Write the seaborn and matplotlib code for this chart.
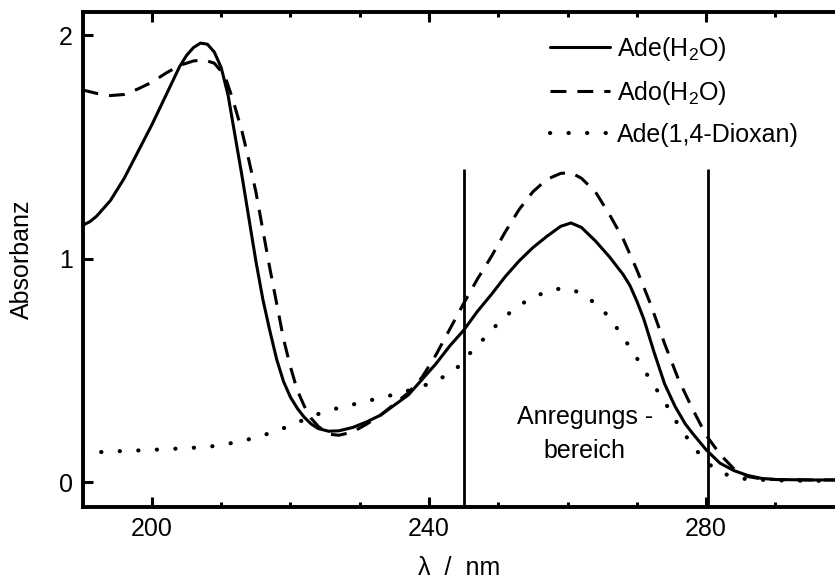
import matplotlib
matplotlib.use("Agg")
import pandas as pd
import matplotlib.pyplot as plt
import seaborn as sns
from matplotlib.ticker import MultipleLocator

sns.set_style("ticks")
plt.rcParams["font.family"] = ["Liberation Sans", "DejaVu Sans"]
plt.rcParams["mathtext.fontset"] = "custom"
plt.rcParams["mathtext.rm"] = "Liberation Sans"
plt.rcParams["mathtext.it"] = "Liberation Sans:italic"
plt.rcParams["font.size"] = 18
for key in ["text.color", "axes.labelcolor", "xtick.color", "ytick.color", "axes.edgecolor"]:
    plt.rcParams[key] = "black"

# Ade in Wasser
ade_x = [190, 191, 192, 194, 196, 198, 200, 202, 204, 205, 206, 207, 208, 209,
         210, 211, 212, 213, 214, 215, 216, 217, 218, 219, 220, 221, 222, 223,
         224, 225.5, 227, 229, 231, 233, 235, 237, 239, 241, 243, 245, 247, 249,
         251, 253, 255, 257, 259, 260.5, 262, 264, 266, 268, 269, 270, 271,
         272.5, 274, 275.5, 277, 278, 280, 282, 284, 286, 288, 290, 295, 298.6]
ade_y = [1.15, 1.165, 1.19, 1.26, 1.36, 1.48, 1.60, 1.73, 1.86, 1.91, 1.945,
         1.965, 1.96, 1.925, 1.855, 1.73, 1.55, 1.37, 1.18, 0.99, 0.82, 0.68,
         0.55, 0.45, 0.38, 0.33, 0.29, 0.26, 0.24, 0.228, 0.23, 0.245, 0.27,
         0.30, 0.345, 0.39, 0.46, 0.53, 0.61, 0.68, 0.765, 0.84, 0.92, 0.99,
         1.05, 1.10, 1.145, 1.16, 1.14, 1.08, 1.01, 0.93, 0.88, 0.81, 0.73, 0.58,
         0.44, 0.34, 0.26, 0.22, 0.145, 0.085, 0.052, 0.03, 0.017, 0.012, 0.01,
         0.01]

# Ado in Wasser
ado_x = [190, 192, 194, 196, 198, 200, 202, 204, 206, 207.5, 209, 210.5, 211.7,
         213, 214, 215, 216, 217, 218, 219, 220, 221, 222, 223, 224, 225.5, 227,
         229, 231, 233, 235, 237, 239, 241, 243, 245, 247, 249, 251, 253, 255,
         257, 259, 260.5, 262, 264, 266, 268, 270, 272, 274, 276, 278, 280, 282,
         284, 286, 288, 290, 295, 298.6]
ado_y = [1.755, 1.74, 1.73, 1.735, 1.76, 1.79, 1.83, 1.865, 1.885, 1.89, 1.875,
         1.82, 1.71, 1.57, 1.44, 1.30, 1.13, 0.96, 0.80, 0.64, 0.515, 0.41, 0.34,
         0.285, 0.25, 0.215, 0.21, 0.225, 0.26, 0.30, 0.35, 0.40, 0.47, 0.57,
         0.685, 0.80, 0.91, 1.01, 1.12, 1.22, 1.30, 1.355, 1.382, 1.385, 1.36,
         1.30, 1.20, 1.09, 0.95, 0.795, 0.62, 0.46, 0.33, 0.21, 0.125, 0.06,
         0.025, 0.015, 0.012, 0.01, 0.01]

# Ade in 1,4-Dioxan
diox_x = [190, 193, 196, 199, 202, 205, 208, 210, 212, 214, 216, 218, 220, 222,
          224, 226, 228, 230, 232, 234, 236, 238, 240, 242, 244, 246, 248, 250,
          252, 254, 256, 258, 260, 262, 264, 266, 268, 270, 272, 274, 276, 278,
          280, 282, 284, 286, 290, 295, 298.6]
diox_y = [0.134, 0.135, 0.14, 0.143, 0.148, 0.152, 0.158, 0.166, 0.178, 0.192,
          0.21, 0.228, 0.255, 0.28, 0.305, 0.325, 0.34, 0.355, 0.37, 0.385, 0.40,
          0.42, 0.44, 0.47, 0.51, 0.58, 0.645, 0.712, 0.768, 0.81, 0.84, 0.863,
          0.868, 0.845, 0.80, 0.74, 0.65, 0.555, 0.455, 0.36, 0.255, 0.165, 0.09,
          0.045, 0.022, 0.013, 0.008, 0.006, 0.006]

labels = ["Ade(H$_2$O)", "Ado(H$_2$O)", "Ade(1,4-Dioxan)"]
excitation_bounds = [245, 280.3]
excitation_top = 1.4

fig = plt.figure(figsize=(8.35, 5.83), dpi=100)
ax = fig.add_axes([0.099, 0.130, 0.901, 0.849])

lw = 2.2
sns.lineplot(x=ade_x, y=ade_y, ax=ax, color="black", lw=lw, linestyle="-")
sns.lineplot(x=ado_x, y=ado_y, ax=ax, color="black", lw=lw, linestyle=(0, (5.2, 3.6)))
sns.lineplot(x=diox_x, y=diox_y, ax=ax, color="black", lw=3.0,
             linestyle=(0, (0.05, 4.4)), dash_capstyle="round")

ax.vlines(excitation_bounds, -0.12, excitation_top, color="black", lw=2)
ax.text(262.5, 0.215, "Anregungs -\nbereich", ha="center", va="center",
        linespacing=1.55, fontsize=18)

ax.set_xlim(190, 298.6)
ax.set_ylim(-0.112, 2.103)
ax.xaxis.set_major_locator(MultipleLocator(40))
ax.xaxis.set_minor_locator(MultipleLocator(10))
ax.yaxis.set_major_locator(MultipleLocator(1))
ax.tick_params(which="both", direction="in", top=True, width=2.2, pad=7, labelsize=18)
ax.tick_params(which="major", length=7)
ax.tick_params(which="minor", length=3.5)

for side in ["left", "bottom", "top"]:
    ax.spines[side].set_linewidth(2.8)
ax.spines["right"].set_visible(False)

ax.set_xlabel("λ  /  nm", fontsize=18, labelpad=11)
ax.set_ylabel("Absorbanz", fontsize=18, labelpad=18)

ax.legend(ax.lines[:3], labels, loc="upper left", bbox_to_anchor=(0.621, 0.955),
          frameon=False, handlelength=2.4, handletextpad=0.28, borderpad=0,
          borderaxespad=0, labelspacing=0.65, fontsize=18)

fig.savefig("out.png", dpi=100)
